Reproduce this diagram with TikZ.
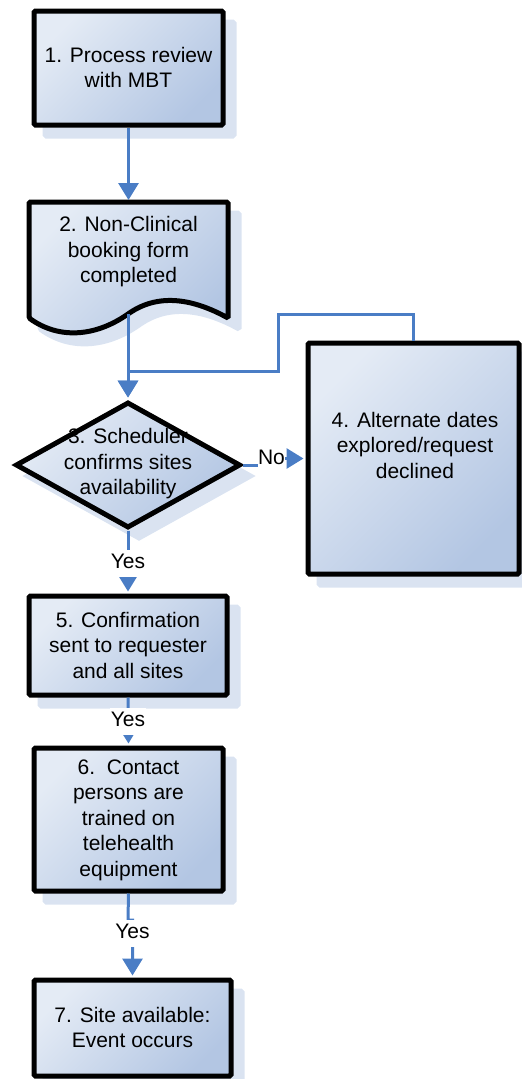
\documentclass[tikz,border=0pt]{standalone}
\usepackage{fontspec}
\setmainfont{Liberation Sans}
\usetikzlibrary{arrows.meta,shapes.geometric}
\definecolor{fl}{HTML}{E4EBF5}
\definecolor{fd}{HTML}{B3C6E3}
\definecolor{shc}{HTML}{DAE3F1}
\definecolor{cn}{HTML}{4A7DC5}
\begin{document}
\begin{tikzpicture}[x=1pt,y=-1pt,
  shd/.style={top color=fl,bottom color=fd,shading angle=45},
  shadowed/.style={preaction={fill=shc,draw=shc,line width=5pt,transform canvas={xshift=11pt,yshift=-11pt}}},
  box/.style={shadowed,shd,draw=black,line width=5pt,rounded corners=1.5pt,inner sep=0pt},
  txt/.style={font=\fontsize{21}{25.5}\selectfont,align=center,inner sep=0pt},
  conn/.style={draw=cn,line width=3pt},
  arr/.style={-{Triangle[width=20pt,length=17pt]},shorten >=2pt},
  lbl/.style={fill=white,font=\fontsize{21}{25}\selectfont,inner xsep=1pt,inner ysep=4pt,text height=15pt,text depth=4pt}]
\useasboundingbox (0,0) rectangle (522,1079);

% 1
\node[box,minimum width=189pt,minimum height=114pt] (b1) at (128.5,68) {};
\node[txt] (t1) at (128.5,67.5) {1. Process review\\with MBT};

% 2 document shape
\path[box] (29,202) -- (228,202) -- (228,318)
  .. controls (195,300) and (160,292) .. (128,314)
  .. controls (96,336) and (60,340) .. (29,318) -- cycle;
\coordinate (b2n) at (128.5,202);
\coordinate (b2s) at (128,314);
\node[txt] (t2) at (128.5,252) {2. Non-Clinical\\booking form\\completed};

% 3 diamond
\node[box,diamond,rounded corners=0pt,minimum width=225pt,minimum height=126pt] (d3) at (128,465) {};
\node[txt] (t3) at (128,464) {3. Scheduler\\confirms sites\\availability};

% 4
\node[box,minimum width=211pt,minimum height=231pt] (b4) at (413.5,458.5) {};
\node[txt] (t4) at (415,445) {4. Alternate dates\\explored/request\\declined};

% 5
\node[box,minimum width=198pt,minimum height=99pt] (b5) at (128,645.5) {};
\node[txt] (t5) at (128,645) {5. Confirmation\\sent to requester\\and all sites};

% 6
\node[box,minimum width=189pt,minimum height=143pt] (b6) at (128.5,819.5) {};
\node[txt] (t6) at (128.5,820) {6.\ \ Contact\\persons are\\trained on\\telehealth\\equipment};

% 7
\node[box,minimum width=197pt,minimum height=96pt] (b7) at (132.5,1028) {};
\node[txt] (t7) at (132.5,1027.5) {7. Site available:\\Event occurs};

% connectors
\coordinate (j) at (128,371);
\draw[conn,arr] (b1.south) -- (b2n);
\draw[conn,arr] (b2s) -- (j) -- (d3.north);
\draw[conn,arr] (b4.north) |- (278,314) |- (j) -- (d3.north);
\draw[conn,arr] (d3.east) -- ++(31.5,0) coordinate (nj) |- (b4.west);
\draw[conn,arr] (d3.south) -- (b5.north);
\draw[conn,arr] (b5.south) -- (b6.north);
\draw[conn,arr] (b6.south) -- (128,920) -| (b7.north);

% labels
\node[lbl,inner xsep=0.5pt] (lno) at (271.5,459) {No};
\node[lbl] (ly1) at (128,563) {Yes};
\node[lbl] (ly2) at (128,721) {Yes};
\node[lbl] (ly3) at (132.5,933) {Yes};
\end{tikzpicture}
\end{document}
